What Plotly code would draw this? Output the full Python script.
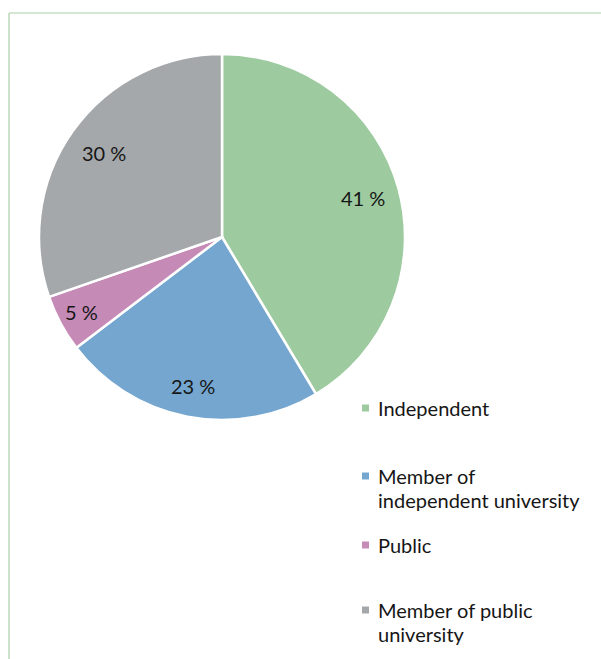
import math
import plotly.graph_objects as go

labels = ["Independent", "Member of independent university", "Public", "Member of public university"]
legend_lines = [["Independent"], ["Member of", "independent university"], ["Public"], ["Member of public", "university"]]
values = [41, 23, 5, 30]
colors = ["#9dcb9f", "#74a6cf", "#c68ab6", "#a5a8ab"]

W, H = 601, 659
cx, cy, r = 222, 237, 183
label_radius = [0.80, 0.83, 0.87, 0.79]  # radial position of the percent labels (fraction of radius)

fig = go.Figure()
fig.add_trace(go.Pie(
    labels=labels,
    values=values,
    sort=False,
    direction="clockwise",
    rotation=0,
    marker=dict(colors=colors, line=dict(color="white", width=2.5)),
    textinfo="none",
    domain=dict(x=[(cx - r) / W, (cx + r) / W], y=[1 - (cy + r) / H, 1 - (cy - r) / H]),
    showlegend=False,
    hoverinfo="label+percent",
))

annotations = []
# percent labels placed at each slice's mid-angle
total = sum(values)
cum = 0
for v, fr in zip(values, label_radius):
    mid = (cum + v / 2) / total * 2 * math.pi
    cum += v
    px = cx + fr * r * math.sin(mid)
    py = cy - fr * r * math.cos(mid)
    annotations.append(dict(xref="paper", yref="paper", x=px / W, y=1 - py / H,
                            xanchor="center", yanchor="middle", showarrow=False,
                            text=f"{v} %", font=dict(family="Lato", size=20, color="#161616")))

# custom legend (first-line centre y positions in px)
leg_y = [408, 476, 545, 610]
line_gap = 24
shapes = [
    dict(type="line", xref="paper", yref="paper", x0=9 / W, x1=1, y0=1 - 13 / H, y1=1 - 13 / H,
         line=dict(color="#a9cfa9", width=1.2)),
    dict(type="line", xref="paper", yref="paper", x0=9 / W, x1=9 / W, y0=1 - 13 / H, y1=0,
         line=dict(color="#a9cfa9", width=1.2)),
]
for lines, col, y in zip(legend_lines, colors, leg_y):
    shapes.append(dict(type="rect", xref="paper", yref="paper",
                       x0=362 / W, x1=369 / W, y0=1 - (y + 3.5) / H, y1=1 - (y - 3.5) / H,
                       fillcolor=col, line=dict(width=0)))
    for k, ln in enumerate(lines):
        annotations.append(dict(xref="paper", yref="paper", x=376 / W, y=1 - (y + k * line_gap) / H,
                                xanchor="left", yanchor="middle", align="left", showarrow=False,
                                text=ln, font=dict(family="Lato", size=20, color="#161616")))

fig.update_layout(
    width=W, height=H,
    margin=dict(l=0, r=0, t=0, b=0),
    paper_bgcolor="white",
    plot_bgcolor="white",
    shapes=shapes,
    annotations=annotations,
)
fig.write_html("out.html")
